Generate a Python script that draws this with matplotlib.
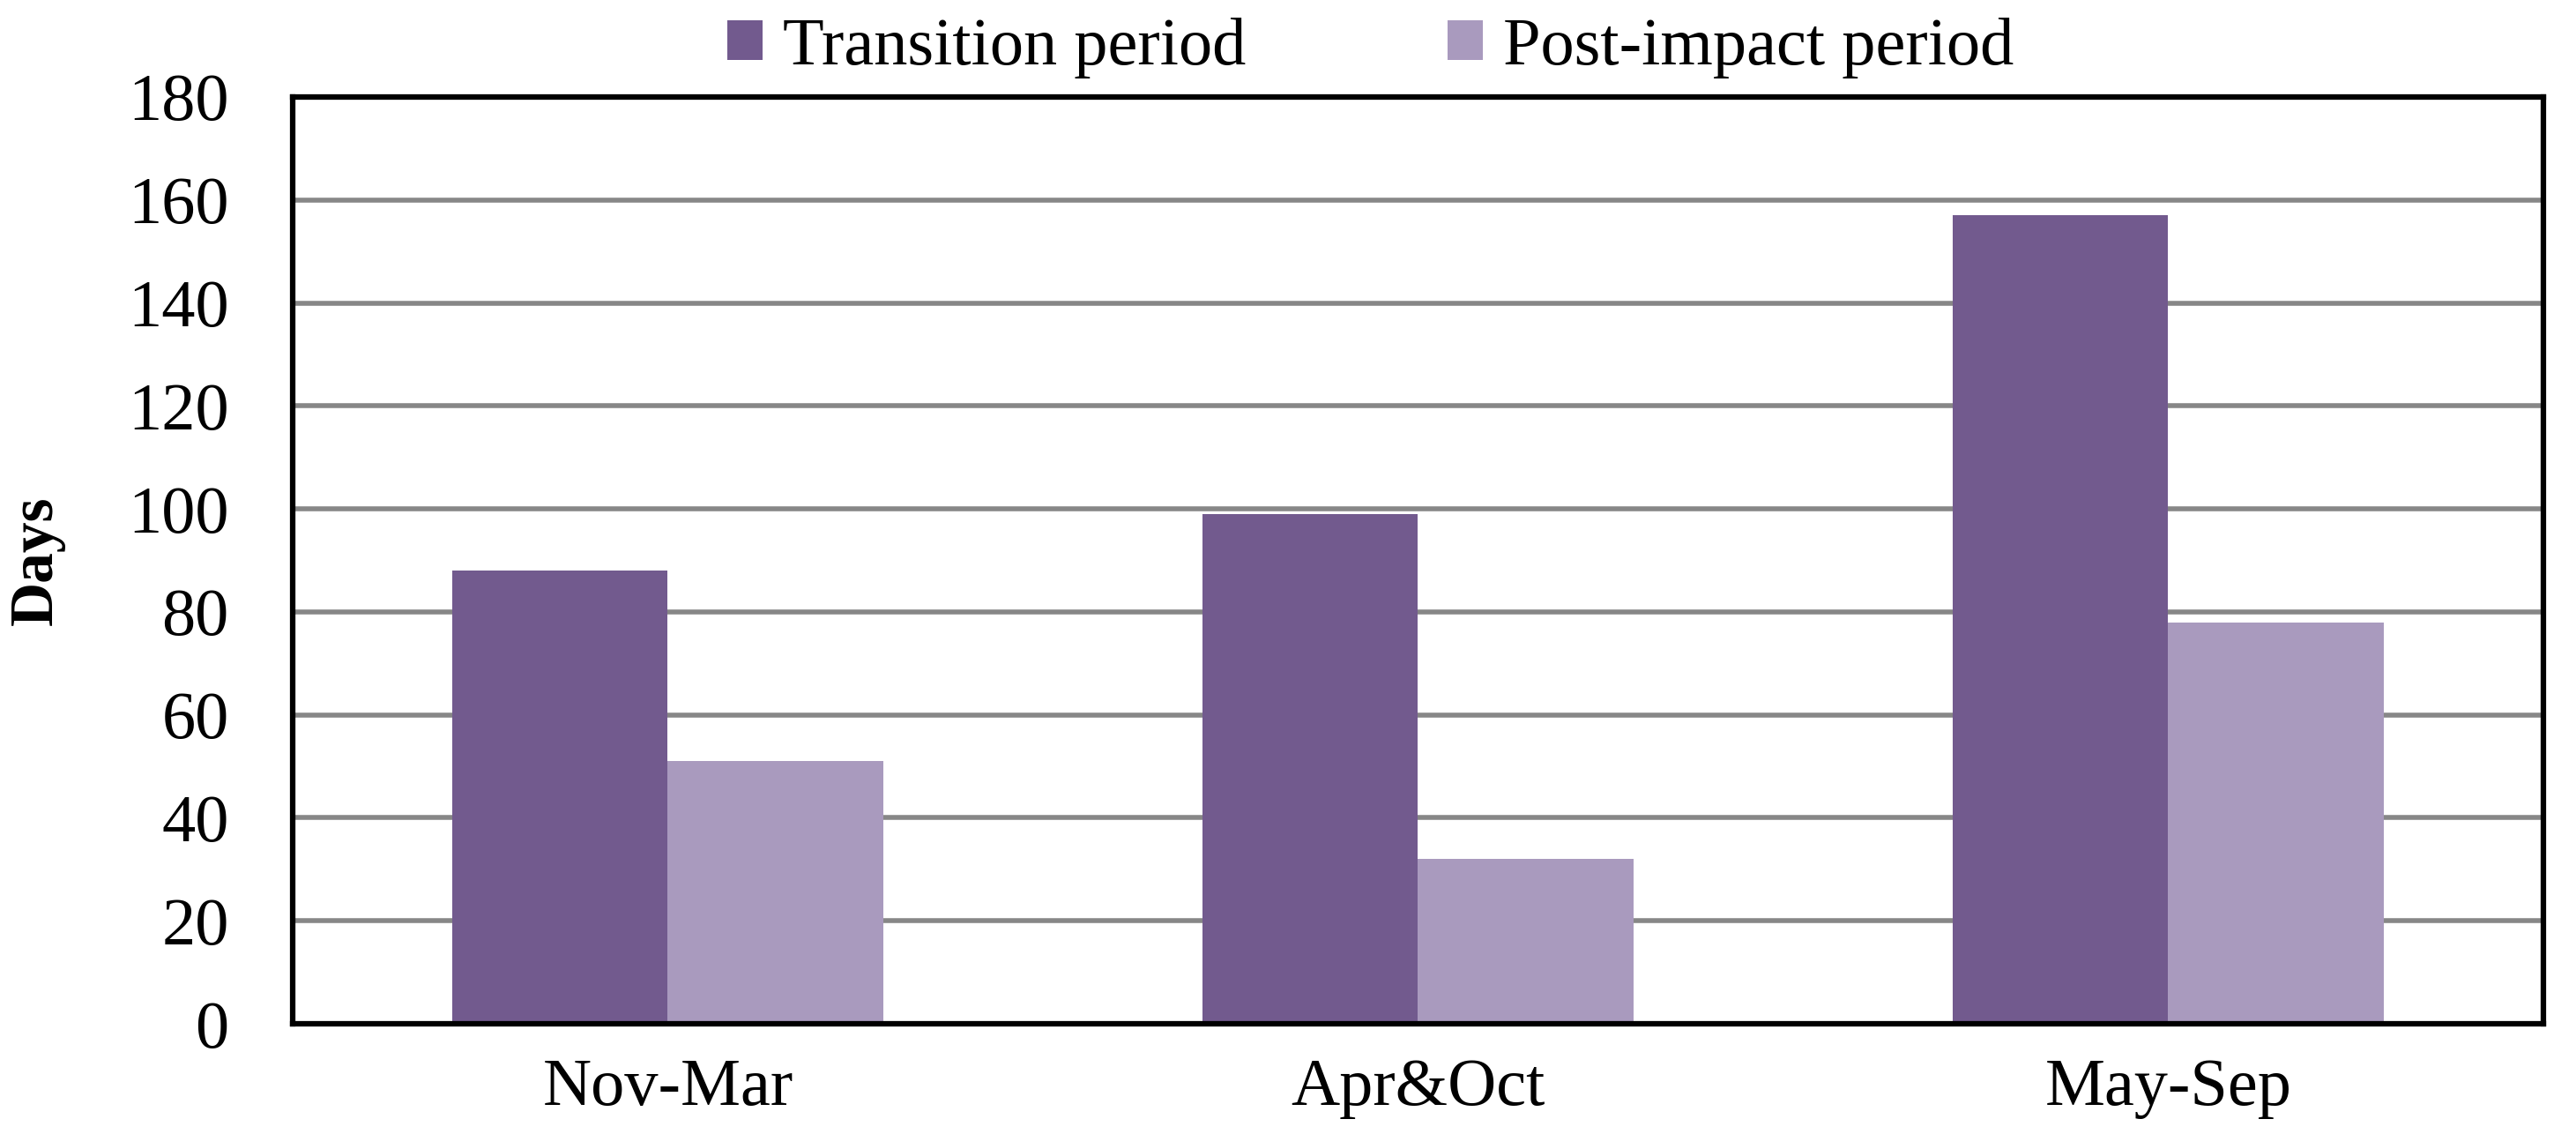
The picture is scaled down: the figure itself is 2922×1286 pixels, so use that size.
import matplotlib
matplotlib.use("Agg")
import matplotlib.pyplot as plt
import numpy as np

categories = ["Nov-Mar", "Apr&Oct", "May-Sep"]
series_names = ["Transition period", "Post-impact period"]
transition = [88, 99, 157]
post_impact = [51, 32, 78]
yticks = [0, 20, 40, 60, 80, 100, 120, 140, 160, 180]

colors = ["#725A8E", "#A99ABE"]

plt.rcParams['font.family'] = ['Liberation Serif', 'DejaVu Serif']

fig = plt.figure(figsize=(29.22, 12.86), dpi=100)
ax = fig.add_axes([0.1136, 0.0972, 0.8737, 0.8173])

x = np.arange(len(categories))
w = 0.287
ax.bar(x - w/2, transition, width=w, color=colors[0], label=series_names[0], zorder=3)
ax.bar(x + w/2, post_impact, width=w, color=colors[1], label=series_names[1], zorder=3)

ax.set_xlim(-0.5, len(categories) - 0.5)
ax.set_ylim(0, 180)
ax.set_yticks(yticks)
ax.set_yticklabels([str(t) for t in yticks])
ax.set_xticks(x)
ax.set_xticklabels(categories)
ax.yaxis.grid(True, color="#878787", linewidth=4.0, zorder=0)
ax.set_axisbelow(True)
for s in ax.spines.values():
    s.set_linewidth(4.5)
    s.set_color("black")
    s.set_zorder(4)
ax.tick_params(axis='both', length=0, labelsize=55)
ax.tick_params(axis='y', pad=52)
ax.tick_params(axis='x', pad=28)
ax.set_ylabel("Days", fontsize=50, fontweight='bold')
ax.yaxis.set_label_coords(-0.101, 0.5)

leg = fig.legend(loc='center', bbox_to_anchor=(0.532, 0.958), ncol=2, frameon=False,
                 fontsize=55, handlelength=0.52, handleheight=0.52, handletextpad=0.3,
                 columnspacing=3.0)

fig.savefig("out.png", dpi=100)
